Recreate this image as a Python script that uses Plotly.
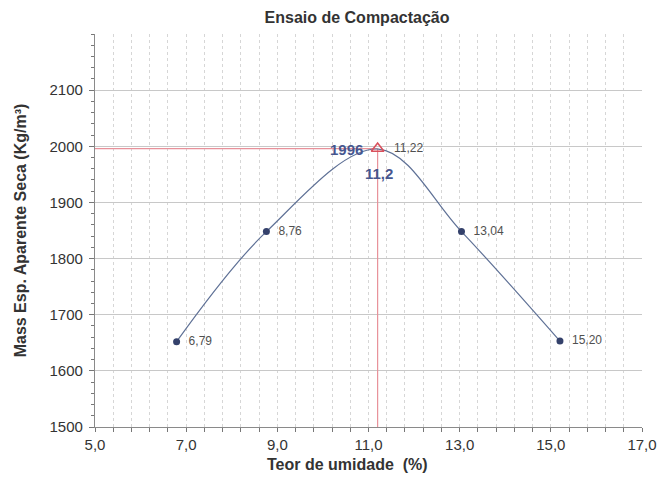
import plotly.graph_objects as go

# Data
umidade = [6.79, 8.76, 11.22, 13.04, 15.20]
massa = [1652, 1848, 1995, 1848, 1653]
rotulos = ["6,79", "8,76", "11,22", "13,04", "15,20"]
ponto_x = [6.79, 8.76, 13.04, 15.20]
ponto_y = [1652, 1848, 1848, 1653]
ponto_rot = ["6,79", "8,76", "13,04", "15,20"]
otimo_umidade = 11.2
otimo_massa = 1996
x_ticks = [5, 7, 9, 11, 13, 15, 17]
x_ticktext = ["5,0", "7,0", "9,0", "11,0", "13,0", "15,0", "17,0"]
y_ticks = [1500, 1600, 1700, 1800, 1900, 2000, 2100]

FONT = "Liberation Sans"
fig = go.Figure()

# red reference lines
fig.add_trace(go.Scatter(x=[5, otimo_umidade], y=[otimo_massa, otimo_massa], mode="lines",
                         line=dict(color="#e8919a", width=1.2), hoverinfo="skip", showlegend=False))
fig.add_trace(go.Scatter(x=[otimo_umidade, otimo_umidade], y=[1500, otimo_massa], mode="lines",
                         line=dict(color="#e8919a", width=1.2), hoverinfo="skip", showlegend=False))

# curve
fig.add_trace(go.Scatter(x=umidade, y=massa, mode="lines",
                         line=dict(color="#5f7196", width=1.2, shape="spline", smoothing=1.0),
                         showlegend=False))
# points
fig.add_trace(go.Scatter(x=ponto_x, y=ponto_y, mode="markers+text", text=["  " + t for t in ponto_rot],
                         textposition="middle right", textfont=dict(family=FONT, size=12, color="#505050"),
                         marker=dict(color="#34416b", size=7), showlegend=False))
# optimum triangle
fig.add_trace(go.Scatter(x=[otimo_umidade], y=[otimo_massa], mode="markers",
                         marker=dict(symbol="triangle-up-open", color="#d9505c", size=11, line=dict(width=1.6)),
                         showlegend=False))

fig.add_annotation(x=otimo_umidade, y=otimo_massa, text="<b>1996</b>", showarrow=False, xanchor="right",
                   xshift=-13, yshift=-1, font=dict(family=FONT, size=15, color="#46568f"))
fig.add_annotation(x=otimo_umidade, y=otimo_massa, text="<b>11,2</b>", showarrow=False, xanchor="center",
                   xshift=1, yshift=-25, font=dict(family=FONT, size=15, color="#46568f"))
fig.add_annotation(x=umidade[2], y=otimo_massa, text=rotulos[2], showarrow=False, xanchor="left",
                   xshift=13, yshift=1, font=dict(family=FONT, size=12, color="#505050"))
# x axis title (slightly left of plot centre as in the original)
fig.add_annotation(x=0.462, y=-0.095, xref="paper", yref="paper", yanchor="middle",
                   text="<b>Teor de umidade  (%)</b>", showarrow=False,
                   font=dict(family=FONT, size=16, color="#333333"))

fig.update_layout(
    width=661, height=480,
    margin=dict(l=86, r=19, t=26, b=61),
    paper_bgcolor="white", plot_bgcolor="white",
    title=dict(text="<b>Ensaio de Compactação</b>", x=0.528, xref="container", xanchor="center",
               y=1.0, yref="container", yanchor="top", pad=dict(t=4),
               font=dict(family=FONT, size=16, color="#333333")),
    font=dict(family=FONT, color="#333333"),
)
fig.update_xaxes(range=[5, 17], tickvals=x_ticks, ticktext=x_ticktext, tickfont=dict(size=15, color="#333333"),
                 showgrid=True, gridcolor="#d6d6d6", gridwidth=1, griddash="dot",
                 showline=True, linecolor="#8a8a8a", linewidth=1.2,
                 ticks="outside", ticklen=4, tickcolor="#777777",
                 minor=dict(dtick=0.4, tick0=5, showgrid=True, gridcolor="#d6d6d6", griddash="dot",
                            ticks="outside", ticklen=4, tickcolor="#777777"),
                 zeroline=False)
fig.update_yaxes(range=[1500, 2200], tickvals=y_ticks,
                 tickfont=dict(size=15, color="#333333"),
                 showgrid=True, gridcolor="#c8c8c8", gridwidth=1,
                 showline=True, linecolor="#8a8a8a", linewidth=1.2,
                 ticks="outside", ticklen=5, tickcolor="#777777", ticklabelstandoff=3,
                 minor=dict(dtick=20, tick0=1500, showgrid=False, ticks="outside", ticklen=3, tickcolor="#777777"),
                 zeroline=False,
                 title=dict(text="<b>Mass Esp. Aparente Seca (Kg/m³)</b>", font=dict(size=16, color="#333333"),
                            standoff=18))

fig.write_html("out.html")
